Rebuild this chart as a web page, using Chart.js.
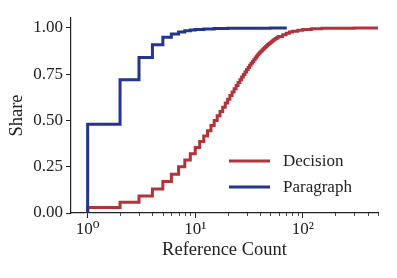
<!DOCTYPE html>
<html lang="en">
<head>
<meta charset="UTF-8">
<title>reference count share</title>
<script src="https://cdn.jsdelivr.net/npm/chart.js"></script>
<style>
  html, body { margin: 0; padding: 0; background: #fff; }
  #wrap { width: 397px; height: 278px; }
</style>
</head>
<body>
<div id="wrap"><canvas id="myChart" width="397" height="278"></canvas></div>
<script>
// cumulative share by reference count
const decisionCounts = [1, 1, 2, 3, 4, 5, 6, 7, 8, 9, 10, 11, 12, 13, 14, 15, 16, 17, 18, 19, 20,
  21, 22, 23, 24, 25, 26, 27, 28, 29, 30, 31, 32, 33, 34, 35, 36, 37, 38, 39, 40,
  41, 42, 43, 44, 45, 46, 47, 48, 49, 50, 51, 52, 53, 54, 55, 56, 57, 58, 59, 60,
  65, 70, 75, 80, 90, 100, 120, 150, 200, 300, 500];
const decisionShare = [0, 0.030, 0.058, 0.092, 0.130, 0.170, 0.210, 0.250, 0.286, 0.320, 0.354,
  0.386, 0.416, 0.445, 0.473, 0.500, 0.525, 0.549, 0.572, 0.594, 0.615,
  0.635, 0.654, 0.672, 0.689, 0.705, 0.720, 0.735, 0.749, 0.762, 0.775,
  0.787, 0.798, 0.809, 0.819, 0.829, 0.838, 0.847, 0.855, 0.863, 0.870,
  0.876, 0.882, 0.888, 0.894, 0.899, 0.904, 0.909, 0.914, 0.918, 0.922,
  0.926, 0.930, 0.934, 0.937, 0.940, 0.943, 0.946, 0.949, 0.952, 0.954,
  0.964, 0.972, 0.978, 0.982, 0.988, 0.992, 0.996, 0.998, 0.999, 1.0, 1.0];

const paragraphCounts = [1, 1, 2, 3, 4, 5, 6, 7, 8, 9, 10, 12, 15, 20, 30, 50, 71];
const paragraphShare = [0, 0.48, 0.72, 0.84, 0.91, 0.95, 0.967, 0.978, 0.985, 0.989, 0.992,
  0.995, 0.997, 0.998, 0.999, 1.0, 1.0];

const seriesNames = ['Decision', 'Paragraph'];
const xMajorTicks = [1, 10, 100];
const xMajorLabels = ['10\u2070', '10\u00b9', '10\u00b2'];
const xMinorTicks = [2, 3, 4, 5, 6, 7, 8, 9, 20, 30, 40, 50, 60, 70, 80, 90, 200, 300, 400, 500];
const yTicks = [0, 0.25, 0.5, 0.75, 1.0];

const RED = '#b0343a';
const BLUE = '#24358c';
const INK = '#222';
const FONT = "'Liberation Serif', 'DejaVu Serif', serif";

function toPoints(xs, ys) {
  return xs.map((x, i) => ({x: x, y: ys[i]}));
}

// minor ticks on the log axis + legend inside the plot
const extras = {
  id: 'extras',
  afterDraw(chart) {
    const ctx = chart.ctx;
    const x = chart.scales.x;
    ctx.save();
    ctx.strokeStyle = INK;
    ctx.lineWidth = 0.8;
    xMinorTicks.forEach(v => {
      const px = Math.round(x.getPixelForValue(v)) + 0.5;
      ctx.beginPath();
      ctx.moveTo(px, x.top);
      ctx.lineTo(px, x.top + 3);
      ctx.stroke();
    });

    const colors = [RED, BLUE];
    const rowY = [161, 187];
    ctx.font = '17px ' + FONT;
    ctx.textBaseline = 'middle';
    ctx.fillStyle = INK;
    seriesNames.forEach((name, i) => {
      ctx.strokeStyle = colors[i];
      ctx.lineWidth = 3;
      ctx.beginPath();
      ctx.moveTo(229, rowY[i]);
      ctx.lineTo(270, rowY[i]);
      ctx.stroke();
      ctx.fillText(name, 283, rowY[i] + 1);
    });
    ctx.restore();
  }
};

const data = {
  datasets: [
    {
      label: seriesNames[0],
      data: toPoints(decisionCounts, decisionShare),
      borderColor: RED,
      borderWidth: 3,
      stepped: true,
      pointRadius: 0,
      order: 2
    },
    {
      label: seriesNames[1],
      data: toPoints(paragraphCounts, paragraphShare),
      borderColor: BLUE,
      borderWidth: 3,
      stepped: true,
      pointRadius: 0,
      order: 1
    }
  ]
};

const config = {
  type: 'line',
  data: data,
  options: {
    responsive: false,
    animation: false,
    layout: { padding: { left: 0, right: 19, top: 18, bottom: 0 } },
    plugins: { legend: { display: false }, tooltip: { enabled: false } },
    scales: {
      x: {
        type: 'logarithmic',
        min: 0.71,
        max: 500,
        afterBuildTicks: s => { s.ticks = xMajorTicks.map(v => ({value: v})); },
        afterFit: s => { s.height = 65; },
        ticks: {
          callback: (v) => xMajorLabels[xMajorTicks.indexOf(v)],
          color: INK,
          font: { family: FONT, size: 17 },
          padding: 1,
          maxRotation: 0,
          autoSkip: false
        },
        grid: { drawOnChartArea: false, tickLength: 5, tickColor: INK, tickWidth: 1 },
        border: { display: true, color: INK, width: 1.2 },
        title: {
          display: true,
          text: 'Reference Count',
          color: INK,
          font: { family: FONT, size: 18.5 },
          padding: { top: 0, bottom: 17 }
        }
      },
      y: {
        min: 0,
        max: 1.054,
        afterBuildTicks: s => { s.ticks = yTicks.map(v => ({value: v})); },
        afterFit: s => { s.width = 71; },
        ticks: {
          callback: v => v.toFixed(2),
          color: INK,
          font: { family: FONT, size: 17 },
          padding: 3
        },
        grid: { drawOnChartArea: false, tickLength: 5, tickColor: INK, tickWidth: 1 },
        border: { display: true, color: INK, width: 1.2 },
        title: {
          display: true,
          text: 'Share',
          color: INK,
          font: { family: FONT, size: 18.5 },
          padding: { top: 6, bottom: 0 }
        }
      }
    }
  },
  plugins: [extras]
};

const myChart = new Chart(document.getElementById('myChart'), config);
</script>
</body>
</html>
